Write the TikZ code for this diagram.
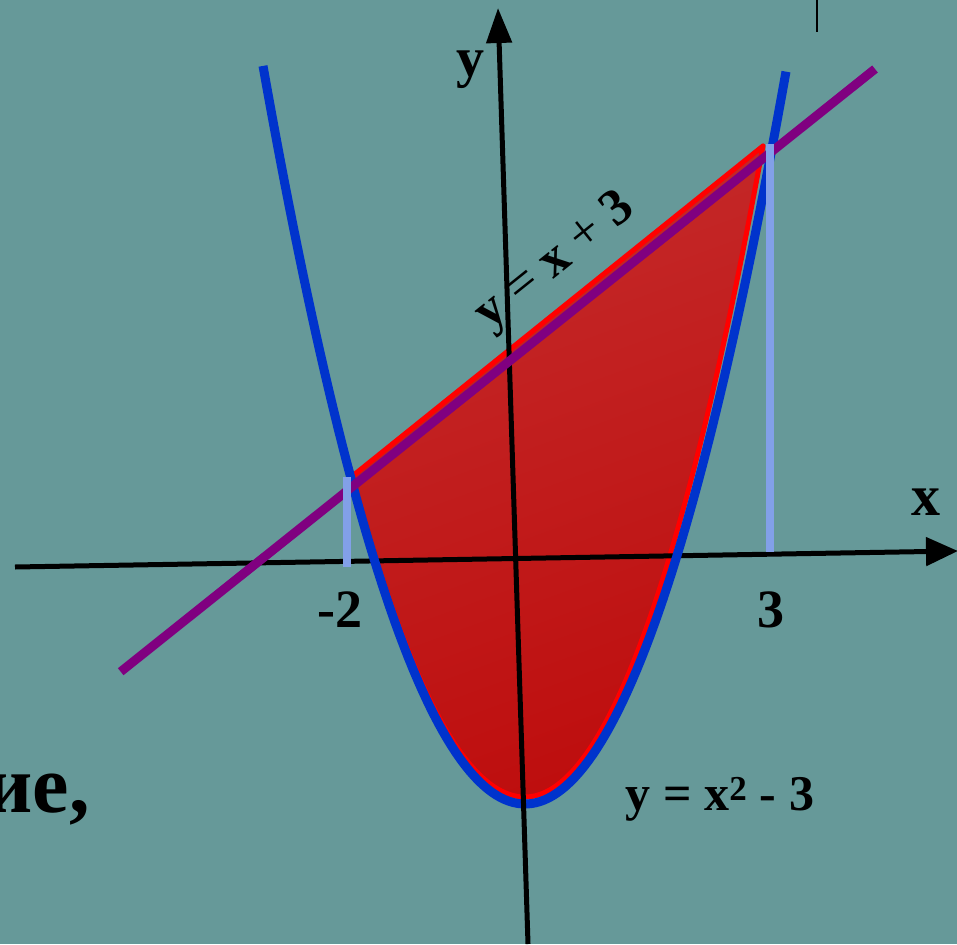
\documentclass[tikz,border=0pt]{standalone}
\usepackage{fontspec}
\setmainfont{Liberation Serif}
\usetikzlibrary{arrows.meta}
\definecolor{bg}{RGB}{102,153,153}
\definecolor{parab}{RGB}{0,51,204}
\definecolor{lin}{RGB}{128,0,128}
\definecolor{vert}{RGB}{130,160,232}
\definecolor{redA}{RGB}{196,42,42}
\definecolor{redB}{RGB}{190,14,14}
\begin{document}
\begin{tikzpicture}[x=1pt,y=-1pt,
  axis/.style={black,line width=5pt},
  lbl/.style={inner sep=0pt,font=\bfseries},
  curveB/.style={parab,line width=9pt},
  lineP/.style={lin,line width=9pt},
  vmark/.style={vert,line width=8pt}]
\fill[bg] (0,0) rectangle (957,944);
\useasboundingbox (0,0) rectangle (957,944);
% shaded region
\def\regionpath{(350,478) -- (763,146)
  -- plot[domain=23.8:0,samples=60] ({525+10*\x},{797-\x*\x/0.87})
  -- plot[domain=0:-17.5,samples=60] ({525+10*\x},{797-\x*\x/0.93}) -- cycle}
\shade[top color=redA,bottom color=redB,shading angle=20] \regionpath;
\draw[red,line width=5pt,line join=round] \regionpath;
% x axis
\coordinate (xs) at (15,567);
\coordinate (xe) at (958,551);
\draw[axis,-{Triangle[length=32pt,width=28pt]}] (xs) -- (xe);
% parabola
\draw[curveB] plot[domain=-26.2:26.1,samples=120] ({525+10*\x},{804-\x*\x/0.93});
% y axis
\coordinate (ys) at (528,944);
\coordinate (ye) at (498,8);
\draw[axis,-{Triangle[length=35pt,width=25pt]}] (ys) -- (ye);
% line y=x+3
\coordinate (l1) at (120.7,671.7);
\coordinate (l2) at (875,69);
\draw[lineP] (l1) -- (l2);
% vertical markers
\coordinate (a1) at (347,477);
\coordinate (a2) at (347,567);
\coordinate (b1) at (770,144);
\coordinate (b2) at (770,552);
\draw[vmark] (a1) -- (a2);
\draw[vmark] (b1) -- (b2);
% small stroke top right
\coordinate (t1) at (817,0);
\coordinate (t2) at (817,32);
\draw[black,line width=2pt] (t1) -- (t2);
% labels
\node[lbl,font=\bfseries\fontsize{56}{60}\selectfont,anchor=base] (ylab) at (470,77) {y};
\node[lbl,font=\bfseries\fontsize{58}{62}\selectfont,anchor=base] (xlab) at (926,515) {x};
\node[lbl,font=\bfseries\fontsize{54}{58}\selectfont,anchor=base] (m2) at (340,627) {-2};
\node[lbl,font=\bfseries\fontsize{54}{58}\selectfont,anchor=base] (p3) at (771,627) {3};
\node[lbl,font=\fontsize{52}{56}\selectfont,rotate=38.7] (linelab) at (556,262) {\textbf{y} = \textbf{x} + \textbf{3}};
\node[lbl,font=\bfseries\fontsize{50}{54}\selectfont,anchor=base] (parlab) at (720,810) {y = x\textsuperscript{2} - 3};
\node[lbl,font=\bfseries\fontsize{82}{86}\selectfont,anchor=base east] (frag) at (90,812) {ие,};
\end{tikzpicture}
\end{document}
